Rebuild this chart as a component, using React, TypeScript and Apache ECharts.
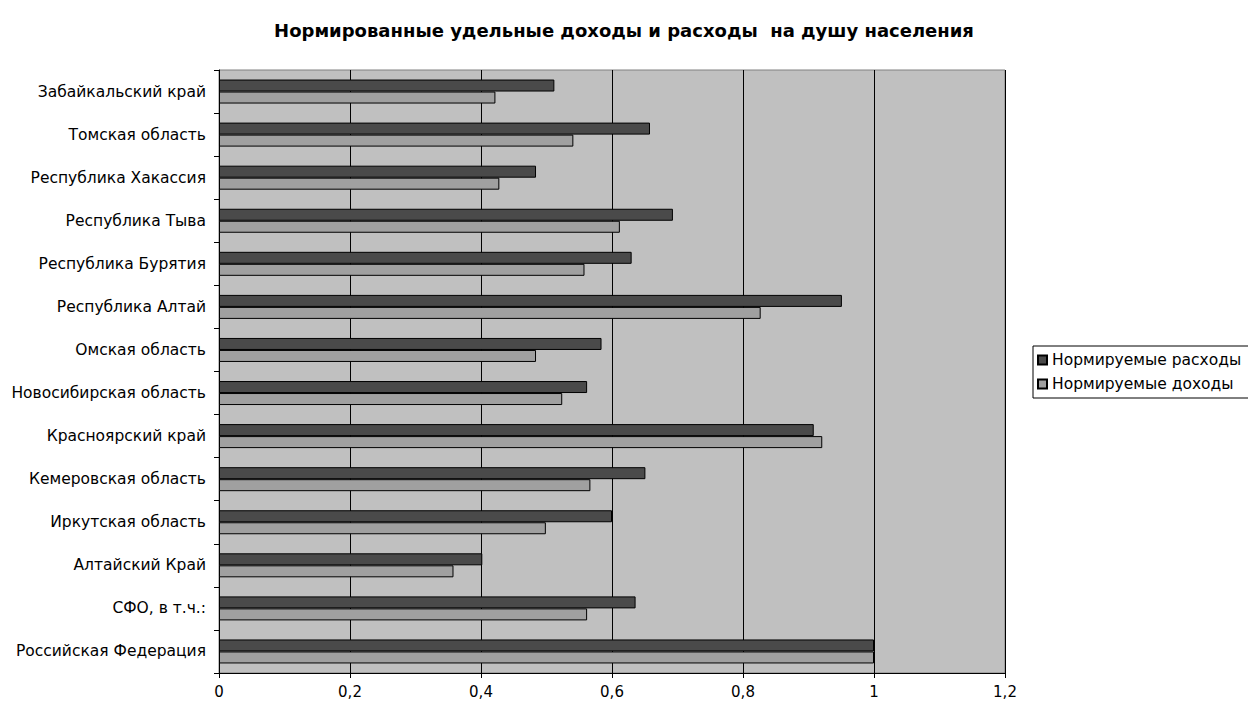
import React, { useEffect, useRef } from "react";
import * as echarts from "echarts";

// Listed top-to-bottom as in the picture
const regions = [
  "Забайкальский край",
  "Томская область",
  "Республика Хакассия",
  "Республика Тыва",
  "Республика Бурятия",
  "Республика Алтай",
  "Омская область",
  "Новосибирская область",
  "Красноярский край",
  "Кемеровская область",
  "Иркутская область",
  "Алтайский Край",
  "СФО, в т.ч.:",
  "Российская Федерация",
];
const expenses = [0.512, 0.658, 0.484, 0.693, 0.63, 0.951, 0.584, 0.562, 0.908, 0.651, 0.6, 0.402, 0.636, 1.0];
const incomes = [0.422, 0.541, 0.428, 0.612, 0.558, 0.827, 0.484, 0.524, 0.921, 0.567, 0.499, 0.358, 0.562, 1.0];
const seriesNames = ["Нормируемые расходы", "Нормируемые доходы"];
const titleText = "Нормированные удельные доходы и расходы  на душу населения";
const xTicks = { min: 0, max: 1.2, interval: 0.2 };

const FONT = "DejaVu Sans";

export default function App() {
  const ref = useRef<HTMLDivElement>(null);
  useEffect(() => {
    if (!ref.current) return;
    const chart = echarts.init(ref.current, null, { renderer: "svg" });
    const cats = regions.slice().reverse();
    const exp = expenses.slice().reverse();
    const inc = incomes.slice().reverse();
    chart.setOption({
      animation: false,
      backgroundColor: "#ffffff",
      textStyle: { fontFamily: FONT },
      title: {
        text: titleText,
        left: "center",
        top: 16,
        textStyle: { fontFamily: FONT, fontSize: 18, fontWeight: "bold", color: "#000" },
      },
      legend: {
        orient: "vertical",
        left: 1033,
        top: 346,
        data: seriesNames,
        itemWidth: 9,
        itemHeight: 9,
        itemGap: 8,
        padding: [6, 8, 6, 4],
        borderColor: "#000",
        borderWidth: 1,
        icon: "rect",
        textStyle: { fontFamily: FONT, fontSize: 15.5, color: "#000" },
      },
      grid: {
        left: 219,
        right: 243,
        top: 70,
        bottom: 31,
        show: true,
        backgroundColor: "#c0c0c0",
        borderColor: "#808080",
        borderWidth: 1,
      },
      xAxis: {
        type: "value",
        min: xTicks.min,
        max: xTicks.max,
        interval: xTicks.interval,
        axisLine: { show: true, lineStyle: { color: "#000", width: 1 } },
        axisTick: { show: true, length: 5, lineStyle: { color: "#000" } },
        splitLine: { show: true, lineStyle: { color: "#000", width: 1 } },
        axisLabel: {
          margin: 11,
          fontFamily: FONT,
          fontSize: 15,
          color: "#000",
          formatter: (v: number) => String(Math.round(v * 10) / 10).replace(".", ","),
        },
      },
      yAxis: {
        type: "category",
        data: cats,
        axisLine: { show: true, lineStyle: { color: "#000", width: 1 } },
        axisTick: { show: true, length: 5, lineStyle: { color: "#000" } },
        splitLine: { show: false },
        axisLabel: { margin: 13, fontFamily: FONT, fontSize: 15.5, color: "#000" },
      },
      series: [
        {
          name: seriesNames[0],
          type: "bar",
          data: exp,
          barWidth: 12,
          barGap: "0%",
          itemStyle: { color: "#4a4a4a", borderColor: "#000", borderWidth: 1 },
        },
        {
          name: seriesNames[1],
          type: "bar",
          data: inc,
          barWidth: 12,
          barGap: "0%",
          itemStyle: { color: "#a0a0a0", borderColor: "#000", borderWidth: 1 },
        },
      ],
    });
    return () => chart.dispose();
  }, []);
  return (
    <div
      ref={ref}
      style={{ position: "absolute", left: 0, top: 0, width: 1248, height: 704 }}
    />
  );
}
